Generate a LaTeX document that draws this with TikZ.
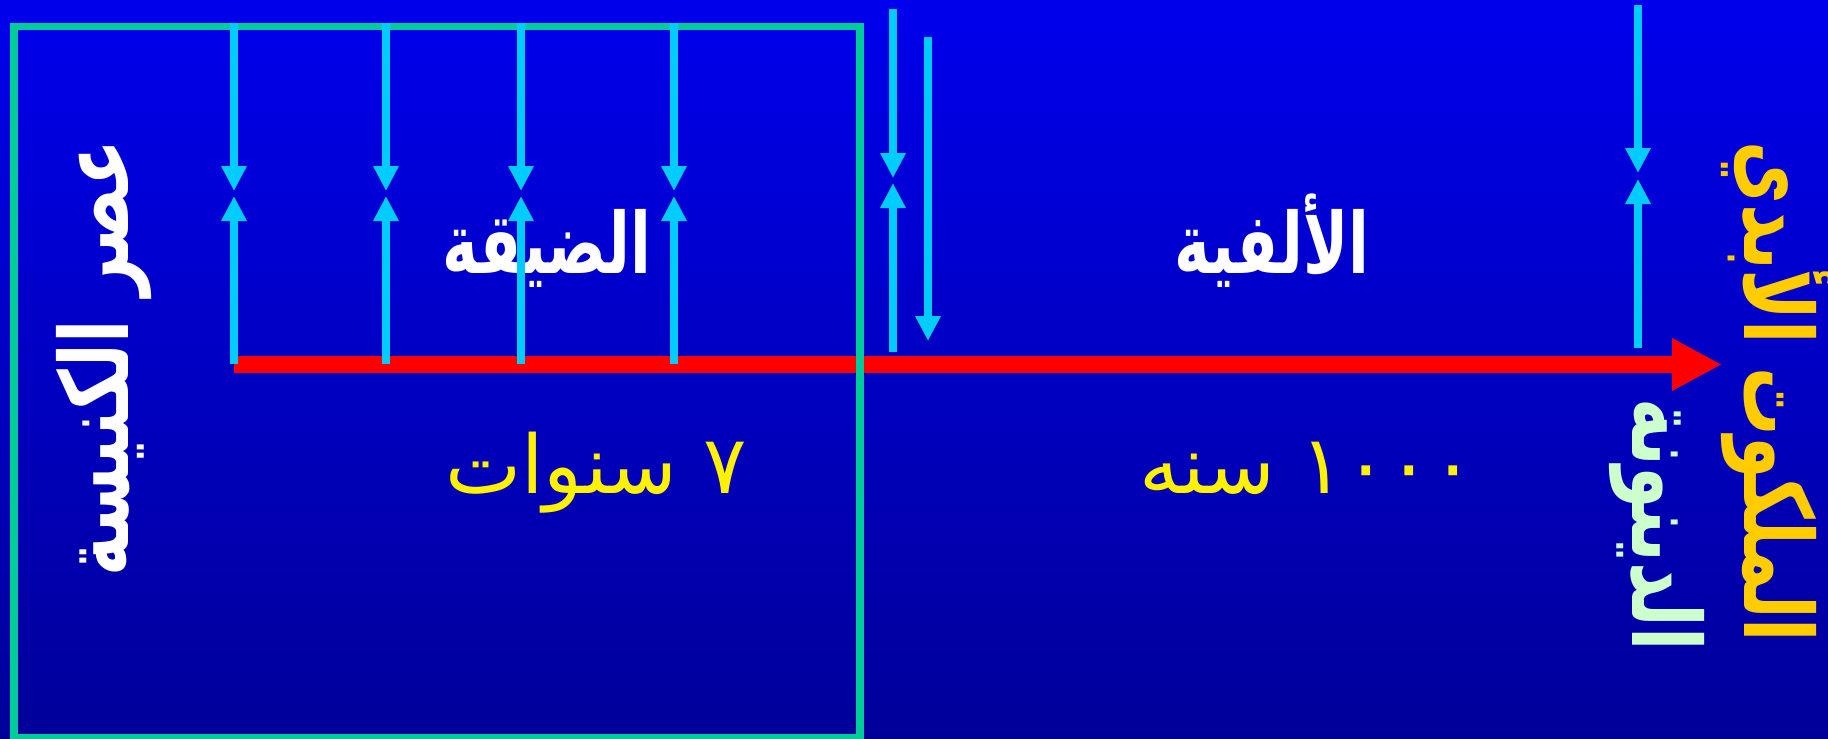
\documentclass[tikz,border=0pt]{standalone}
\usepackage{fontspec}
\usetikzlibrary{arrows.meta}
\newfontfamily\arabicfont[Script=Arabic]{DejaVu Sans}
\newfontfamily\arabicnarrow[Script=Arabic, FakeStretch=0.72]{DejaVu Sans}
\TeXXeTstate=1
\definecolor{skytop}{RGB}{0,0,236}
\definecolor{skybottom}{RGB}{0,0,153}
\definecolor{framegreen}{RGB}{0,204,153}
\definecolor{cuecyan}{RGB}{0,204,255}
\definecolor{kingdomgold}{RGB}{255,204,0}
\definecolor{judgmentgreen}{RGB}{204,255,204}

\begin{document}
\begin{tikzpicture}[x=0.01cm, y=-0.01cm]
        \tikzstyle{period} = [text=white, font=\arabicnarrow\bfseries\fontsize{24}{28}\selectfont, inner sep=0pt, anchor=base]
        \tikzstyle{years} = [text=yellow, font=\arabicfont\fontsize{23}{27}\selectfont, inner sep=0pt, anchor=base]
        \tikzstyle{sidetext} = [font=\arabicnarrow\bfseries\fontsize{27}{31}\selectfont, inner sep=0pt]
        \tikzstyle{cue} = [draw=cuecyan, line width=2.4pt, -{Triangle[length=0.25cm, width=0.24cm]}]
        \tikzstyle{timeline} = [draw=red, line width=4.8pt, -{Triangle[length=0.5cm, width=0.49cm]}, red]

        % background
        \shade [top color=skytop, bottom color=skybottom] (0,0) rectangle (1828,738);
        \useasboundingbox (0,0) rectangle (1828,738);

        \node [period] (tribulation) at (547,273) {\beginR الضيقة\endR};
        \node [years] (seven) at (596,493) {\beginR ٧ سنوات\endR};
        \node [period] (millennium) at (1272,273) {\beginR الألفية\endR};
        \node [years] (thousand) at (1307,493) {\beginR ١٠٠٠ سنه\endR};
        \node [sidetext, text=white, rotate=90] (church) at (104,358) {\beginR عصر الكنيسة\endR};
        \node [sidetext, text=kingdomgold, rotate=-90] (kingdom) at (1778,392) {\beginR الملكوت الأبدي\endR};
        \node [sidetext, text=judgmentgreen, rotate=-90] (judgment) at (1657,525) {\beginR الدينونة\endR};

        % time line
        \coordinate (start) at (234,364.5);
        \coordinate (end) at (1722,364.5);
        \path [timeline] (start) -- (end);

        \draw [framegreen, line width=2pt] (14,26.3) rectangle (860,737);

        % markers
        \foreach \x [count=\i] in {234,386,521,674} {
            \coordinate (top\i) at (\x,23);
            \coordinate (meet\i) at (\x,191);
            \coordinate (rise\i) at (\x,196);
            \coordinate (base\i) at (\x,364);
            \path [cue] (top\i) -- (meet\i);
            \path [cue] (base\i) -- (rise\i);
        }
        \coordinate (rapturetop) at (893,9);
        \coordinate (rapturemeet) at (893,178);
        \coordinate (rapturerise) at (893,183);
        \coordinate (rapturebase) at (893,352);
        \path [cue] (rapturetop) -- (rapturemeet);
        \path [cue] (rapturebase) -- (rapturerise);
        \coordinate (returntop) at (928,37);
        \coordinate (returnend) at (928,341);
        \path [cue] (returntop) -- (returnend);
        \coordinate (endtop) at (1638,5);
        \coordinate (endmeet) at (1638,173);
        \coordinate (endrise) at (1638,179);
        \coordinate (endbase) at (1638,348);
        \path [cue] (endtop) -- (endmeet);
        \path [cue] (endbase) -- (endrise);
\end{tikzpicture}
\end{document}
